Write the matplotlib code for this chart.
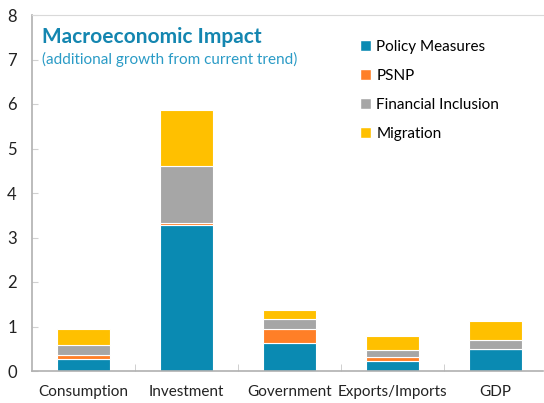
import numpy as np
import matplotlib as mpl
import matplotlib.pyplot as plt
from matplotlib.patches import Patch

categories = ['Consumption', 'Investment', 'Government', 'Exports/Imports', 'GDP']
policy = [0.28, 3.27, 0.63, 0.22, 0.49]
psnp = [0.08, 0.05, 0.31, 0.09, 0.00]
fin_incl = [0.23, 1.28, 0.22, 0.16, 0.20]
migration = [0.35, 1.27, 0.20, 0.32, 0.43]

series = [('Policy Measures', policy, '#0A8AB2'),
          ('PSNP', psnp, '#FF7F27'),
          ('Financial Inclusion', fin_incl, '#A6A6A6'),
          ('Migration', migration, '#FFC000')]

mpl.rcParams['font.family'] = ['Lato', 'DejaVu Sans']
mpl.rcParams['font.size'] = 11

fig = plt.figure(figsize=(5.44, 4.03), dpi=100)
ax = fig.add_axes([32 / 544, 32 / 403, 511 / 544, 356 / 403])

x = np.arange(len(categories))
bottom = np.zeros(len(categories))
for name, vals, color in series:
    vals = np.array(vals)
    ax.bar(x, vals, 0.515, bottom=bottom, color=color,
           edgecolor='white', linewidth=0.8, label=name)
    bottom += vals

ax.set_xlim(-0.5, -0.5 + 511 / 103)
ax.set_ylim(0, 8)
ax.set_yticks(range(0, 9))
ax.set_xticks(x)
ax.set_xticklabels(categories, fontsize=11, color='#222222')
ax.set_xticks(x[:-1] + 0.5, minor=True)
ax.tick_params(axis='x', which='major', length=0, pad=10)
ax.tick_params(axis='x', which='minor', direction='in', length=5,
               color='#C8C8C8')
ax.tick_params(axis='y', direction='in', length=4, color='#D0D0D0',
               labelsize=12, pad=11, labelcolor='#222222')

for side in ['left', 'bottom']:
    ax.spines[side].set_color('#B0B0B0')
    ax.spines[side].set_linewidth(1.2)
ax.spines['top'].set_color('#D9D9D9')
ax.spines['right'].set_visible(False)

ax.text(10 / 511, 1 - 22 / 356, 'Macroeconomic Impact', transform=ax.transAxes,
        fontsize=15, fontweight='bold', color='#1486B0', va='center')
ax.text(10 / 511, 1 - 44 / 356, '(additional growth from current trend)',
        transform=ax.transAxes, fontsize=11, color='#2A9BC6', va='center')

handles = [Patch(facecolor=c, edgecolor='white', label=n) for n, v, c in series]
ax.legend(handles=handles, loc='upper left',
          bbox_to_anchor=((354 - 32) / 511, 1 - 19 / 356),
          frameon=False, fontsize=11, handlelength=0.7, handleheight=0.7,
          handletextpad=0.35, labelspacing=0.97, borderaxespad=0)

fig.savefig('out.png', dpi=100)
